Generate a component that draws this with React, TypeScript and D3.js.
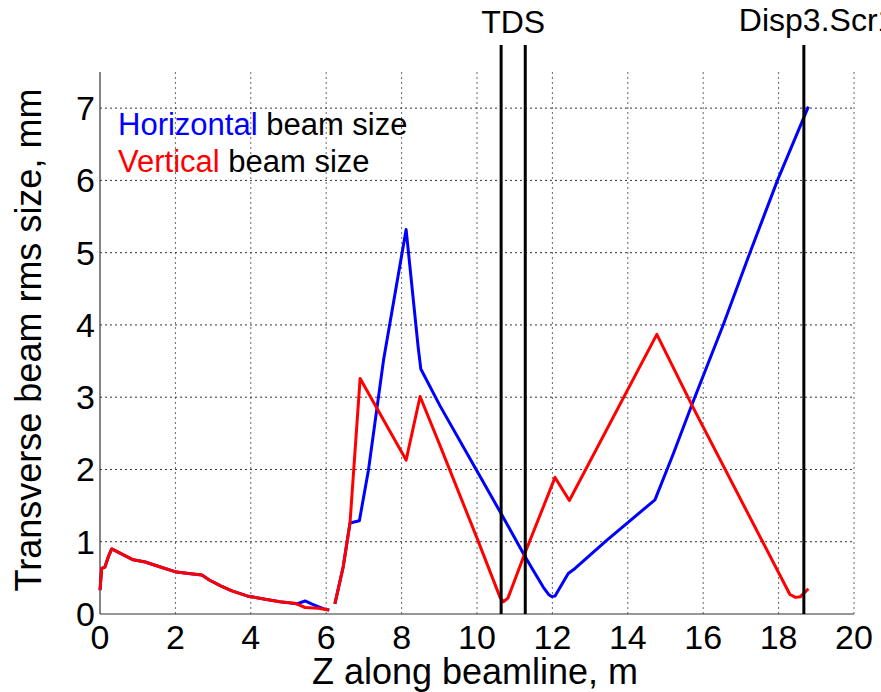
import React from "react";
import * as d3 from "d3";

// Horizontal beam size (blue)
const zH: number[] = [0, 0.045, 0.13, 0.22, 0.31, 0.88, 1.2, 1.6, 2.03, 2.35, 2.7, 2.9, 3.2, 3.5, 3.9, 4.42, 4.77, 5.22, 5.44, 5.61, 5.97, 6.08, 6.15,
  6.23, 6.45, 6.63, 6.88, 7.12, 7.52, 8.12, 8.44, 8.51, 9.02, 10.0, 10.65, 11.27, 11.45, 11.76, 11.9, 11.98, 12.07, 12.42, 12.6, 13.44, 14.72, 15.21, 15.71, 16.53, 17.24, 17.97, 18.79];
const hSize: (number | null)[] = [0.33, 0.63, 0.65, 0.79, 0.9, 0.75, 0.72, 0.65, 0.58, 0.56, 0.54, 0.47, 0.39, 0.32, 0.25, 0.2, 0.17, 0.14, 0.18, 0.14, 0.065, 0.055, null,
  0.14, 0.65, 1.26, 1.29, 1.99, 3.51, 5.32, 3.69, 3.39, 2.88, 1.98, 1.38, 0.8, 0.64, 0.37, 0.27, 0.24, 0.25, 0.56, 0.63, 1.02, 1.58, 2.22, 2.91, 4.0, 5.0, 6.0, 7.02];

// Vertical beam size (red)
const zV: number[] = [0, 0.045, 0.13, 0.22, 0.31, 0.88, 1.2, 1.6, 2.03, 2.35, 2.7, 2.9, 3.2, 3.5, 3.9, 4.42, 4.77, 5.17, 5.44, 5.79, 6.08, 6.15,
  6.23, 6.45, 6.63, 6.9, 8.12, 8.49, 9.02, 10.0, 10.62, 10.7, 10.82, 11.27, 12.07, 12.45, 14.77, 15.71, 18.3, 18.45, 18.58, 18.79];
const vSize: (number | null)[] = [0.33, 0.63, 0.65, 0.79, 0.9, 0.75, 0.72, 0.65, 0.58, 0.56, 0.54, 0.47, 0.39, 0.32, 0.25, 0.2, 0.17, 0.15, 0.09, 0.08, 0.055, null,
  0.14, 0.65, 1.25, 3.26, 2.13, 3.01, 2.33, 1.05, 0.22, 0.17, 0.22, 0.84, 1.89, 1.57, 3.87, 2.88, 0.27, 0.23, 0.24, 0.35];

const xTicks = [0, 2, 4, 6, 8, 10, 12, 14, 16, 18, 20];
const yTicks = [0, 1, 2, 3, 4, 5, 6, 7];

const markerZ = [10.64, 11.28, 18.67];
const markerLabels = [
  { text: "TDS", z: 10.96, anchor: "middle" },
  { text: "Disp3.Scr1", z: 18.67, anchor: "start" },
];

const W = 881;
const H = 692;
const FONT = "'Liberation Sans', Arial, Helvetica, sans-serif";

export default function App() {
  const x = d3.scaleLinear().domain([0, 20]).range([100, 854]);
  const y = d3.scaleLinear().domain([0, 7.5]).range([614, 72]);

  const line = d3
    .line<[number, number | null]>()
    .defined((d) => d[1] !== null)
    .x((d) => x(d[0]))
    .y((d) => y(d[1] as number));

  const hPath = line(zH.map((z, i) => [z, hSize[i]] as [number, number | null])) || "";
  const vPath = line(zV.map((z, i) => [z, vSize[i]] as [number, number | null])) || "";

  const [x0, x1] = x.range();
  const [y0, y1] = y.range();

  return (
    <svg
      width={W}
      height={H}
      style={{ position: "absolute", left: 0, top: 0, background: "#fff", display: "block" }}
      fontFamily={FONT}
    >
      <rect x={0} y={0} width={W} height={H} fill="#fff" />
      {/* grid */}
      {xTicks.filter((t) => t > 0).map((t) => (
        <line key={"gx" + t} x1={x(t)} x2={x(t)} y1={y0} y2={y1} stroke="#666" strokeWidth={1} strokeDasharray="2,3" />
      ))}
      {yTicks.filter((t) => t > 0).map((t) => (
        <line key={"gy" + t} x1={x0} x2={x1} y1={y(t)} y2={y(t)} stroke="#333" strokeWidth={1} strokeDasharray="2,3" />
      ))}
      {/* axes */}
      <line x1={x0} x2={x0} y1={y0} y2={y1} stroke="#333" strokeWidth={1.2} />
      <line x1={x0} x2={x1} y1={y0} y2={y0} stroke="#333" strokeWidth={1.2} />
      {/* tick labels */}
      {xTicks.map((t) => (
        <text key={"tx" + t} x={x(t)} y={649} fontSize={34} textAnchor="middle" fill="#000">
          {t}
        </text>
      ))}
      {yTicks.map((t) => (
        <text key={"ty" + t} x={95} y={y(t) + 12} fontSize={34} textAnchor="end" fill="#000">
          {t}
        </text>
      ))}
      {/* axis labels */}
      <text x={475} y={684} fontSize={36} textAnchor="middle" fill="#000">
        Z along beamline, m
      </text>
      <text transform={`translate(41,340) rotate(-90)`} fontSize={36} textAnchor="middle" fill="#000">
        Transverse beam rms size, mm
      </text>
      {/* curves */}
      <path d={hPath} fill="none" stroke="#0000ff" strokeWidth={3} strokeLinejoin="round" />
      <path d={vPath} fill="none" stroke="#ff0000" strokeWidth={3} strokeLinejoin="round" />
      {/* markers */}
      {markerZ.map((z) => (
        <line key={"m" + z} x1={x(z)} x2={x(z)} y1={45} y2={y0} stroke="#000" strokeWidth={3} />
      ))}
      {markerLabels.map((m, i) => (
        <text
          key={"ml" + i}
          x={m.anchor === "start" ? x(m.z) - 65 : x(m.z)}
          y={i === 0 ? 33 : 31}
          fontSize={32}
          textAnchor={m.anchor as any}
          fill="#000"
        >
          {m.text}
        </text>
      ))}
      {/* legend */}
      <text x={118} y={135} fontSize={31} fill="#000">
        <tspan fill="#0000ff">Horizontal</tspan> beam size
      </text>
      <text x={118} y={172} fontSize={31} fill="#000">
        <tspan fill="#ff0000">Vertical</tspan> beam size
      </text>
    </svg>
  );
}
